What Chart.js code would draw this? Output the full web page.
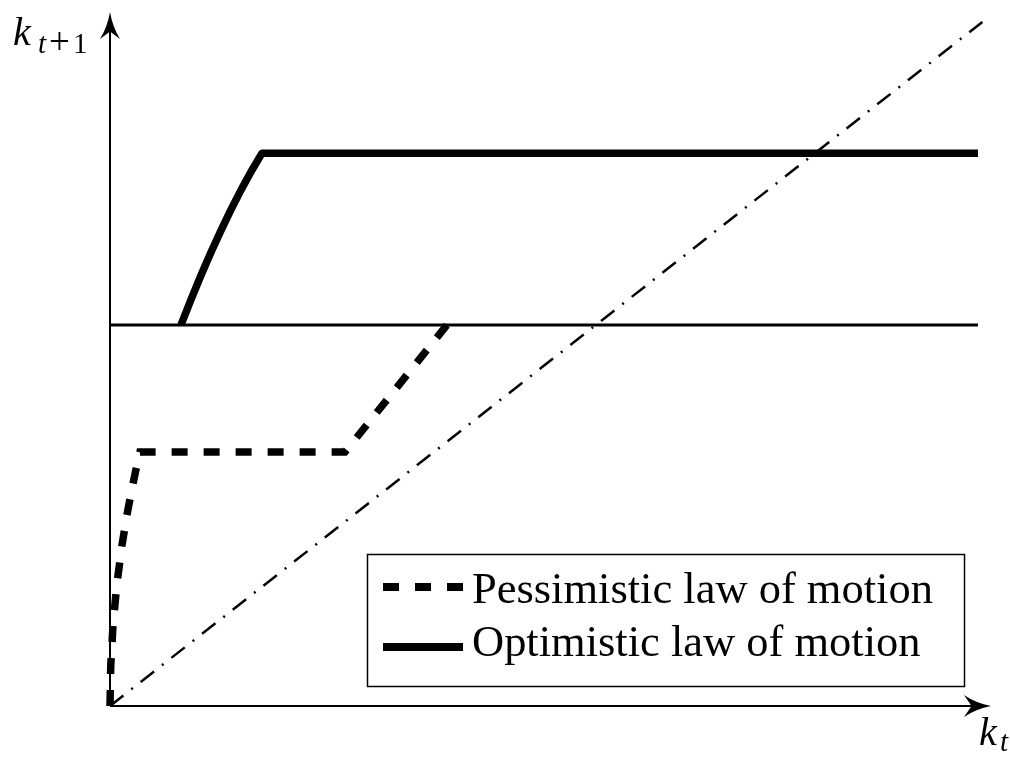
<!DOCTYPE html>
<html>
<head>
<meta charset="utf-8">
<script src="https://cdn.jsdelivr.net/npm/chart.js@4.4.1/dist/chart.umd.min.js"></script>
<style>
  html, body { margin: 0; padding: 0; background: #fff; }
  #wrap { width: 1010px; height: 759px; }
</style>
</head>
<body>
<div id="wrap"><canvas id="chart" width="1010" height="759"></canvas></div>
<script>
// values (k_t on x, k_{t+1} on y, arbitrary units)
const pessimisticK  = [0, 0.0084, 0.0338, 0.076, 0.135, 0.19, 0.244, 0.291, 0.34, 2.667, 3.824];
const pessimisticK1 = [0, 0.58, 1.16, 1.74, 2.32, 2.75, 3.11, 3.40, 3.676, 3.676, 5.514];
const optimisticK   = [0.806, 0.919, 1.033, 1.146, 1.26, 1.373, 1.486, 1.6, 1.725, 9.85];
const optimisticK1  = [5.514, 5.881, 6.233, 6.566, 6.883, 7.182, 7.466, 7.732, 8.0, 8.0];
const thresholdK    = [0, 9.85];
const thresholdK1   = [5.514, 5.514];
const diagonalK     = [0, 9.9];
const diagonalK1    = [0, 9.9];
const legendLabels  = ['Pessimistic law of motion', 'Optimistic law of motion'];

const SERIF = '"Liberation Serif", "DejaVu Serif", serif';

function toPoints(xs, ys) {
  return xs.map((x, i) => ({ x: x, y: ys[i] }));
}

// draws a latex style arrow head, tip at (x, y) pointing along angle
function arrowHead(ctx, x, y, angle, len, half) {
  ctx.save();
  ctx.translate(x, y);
  ctx.rotate(angle);
  ctx.beginPath();
  ctx.moveTo(0, 0);
  ctx.quadraticCurveTo(-len * 0.55, half * 0.25, -len, half);
  ctx.lineTo(-len * 0.72, 0);
  ctx.lineTo(-len, -half);
  ctx.quadraticCurveTo(-len * 0.55, -half * 0.25, 0, 0);
  ctx.closePath();
  ctx.fill();
  ctx.restore();
}

// axes, axis labels and the boxed legend
const decorations = {
  id: 'decorations',
  afterDraw(chart) {
    const ctx = chart.ctx;
    const xs = chart.scales.x, ys = chart.scales.y;
    const ox = xs.getPixelForValue(0), oy = ys.getPixelForValue(0);

    ctx.save();
    ctx.strokeStyle = '#000';
    ctx.fillStyle = '#000';
    ctx.lineWidth = 2;
    ctx.setLineDash([]);
    ctx.beginPath();
    ctx.moveTo(ox, oy);
    ctx.lineTo(ox, 30);
    ctx.moveTo(ox, oy);
    ctx.lineTo(980, oy);
    ctx.stroke();
    arrowHead(ctx, ox, 12, -Math.PI / 2, 27, 10);
    arrowHead(ctx, 991, oy, 0, 27, 11);

    // axis labels: k_{t+1} and k_t
    ctx.textBaseline = 'alphabetic';
    ctx.font = 'italic 40px ' + SERIF;
    ctx.fillText('k', 13, 45);
    ctx.font = 'italic 29px ' + SERIF;
    ctx.fillText('t', 38, 53);
    ctx.font = '37px ' + SERIF;
    ctx.fillText('+', 49, 54);
    ctx.font = '29px ' + SERIF;
    ctx.fillText('1', 73, 53);

    ctx.font = 'italic 40px ' + SERIF;
    ctx.fillText('k', 979, 745);
    ctx.font = 'italic 29px ' + SERIF;
    ctx.fillText('t', 1000, 751);

    // legend
    const box = { left: 367.5, top: 554.5, right: 964.5, bottom: 686.5 };
    ctx.fillStyle = '#fff';
    ctx.fillRect(box.left, box.top, box.right - box.left, box.bottom - box.top);
    ctx.fillStyle = '#000';
    ctx.lineWidth = 1.5;
    ctx.strokeRect(box.left, box.top, box.right - box.left, box.bottom - box.top);

    ctx.font = '100px ' + SERIF;
    const fs = 100 * 461 / ctx.measureText(legendLabels[0]).width;
    ctx.font = fs + 'px ' + SERIF;

    const rows = [
      { ds: chart.data.datasets[0], lineY: 587, base: 603 },
      { ds: chart.data.datasets[1], lineY: 647, base: 656 }
    ];
    rows.forEach((r, i) => {
      ctx.lineWidth = 8;
      ctx.setLineDash(r.ds.borderDash || []);
      ctx.lineCap = 'butt';
      ctx.beginPath();
      ctx.moveTo(383, r.lineY);
      ctx.lineTo(463, r.lineY);
      ctx.stroke();
      ctx.setLineDash([]);
      ctx.fillText(legendLabels[i], 472, r.base);
    });
    ctx.restore();
  }
};

const ctx = document.getElementById('chart').getContext('2d');
new Chart(ctx, {
  type: 'scatter',
  data: {
    datasets: [
      {
        label: legendLabels[0],
        data: toPoints(pessimisticK, pessimisticK1),
        showLine: true,
        borderColor: '#000',
        borderWidth: 7.5,
        borderDash: [16, 16],
        borderCapStyle: 'butt',
        borderJoinStyle: 'miter',
        pointRadius: 0,
        tension: 0,
        clip: false
      },
      {
        label: legendLabels[1],
        data: toPoints(optimisticK, optimisticK1),
        showLine: true,
        borderColor: '#000',
        borderWidth: 7.5,
        borderCapStyle: 'butt',
        borderJoinStyle: 'round',
        pointRadius: 0,
        tension: 0,
        clip: false
      },
      {
        label: 'threshold',
        data: toPoints(thresholdK, thresholdK1),
        showLine: true,
        borderColor: '#000',
        borderWidth: 3,
        pointRadius: 0,
        clip: false
      },
      {
        label: '45 degree line',
        data: toPoints(diagonalK, diagonalK1),
        showLine: true,
        borderColor: '#000',
        borderWidth: 2.5,
        borderDash: [17, 10, 2, 10],
        borderCapStyle: 'butt',
        pointRadius: 0,
        clip: false
      }
    ]
  },
  options: {
    responsive: false,
    animation: false,
    devicePixelRatio: 1,
    layout: { padding: { left: 110, right: 10, top: 15, bottom: 53 } },
    scales: {
      x: { type: 'linear', min: 0, max: 10.1, display: false },
      y: { type: 'linear', min: 0, max: 10, display: false }
    },
    plugins: {
      legend: { display: false },
      tooltip: { enabled: false }
    }
  },
  plugins: [decorations]
});
</script>
</body>
</html>
